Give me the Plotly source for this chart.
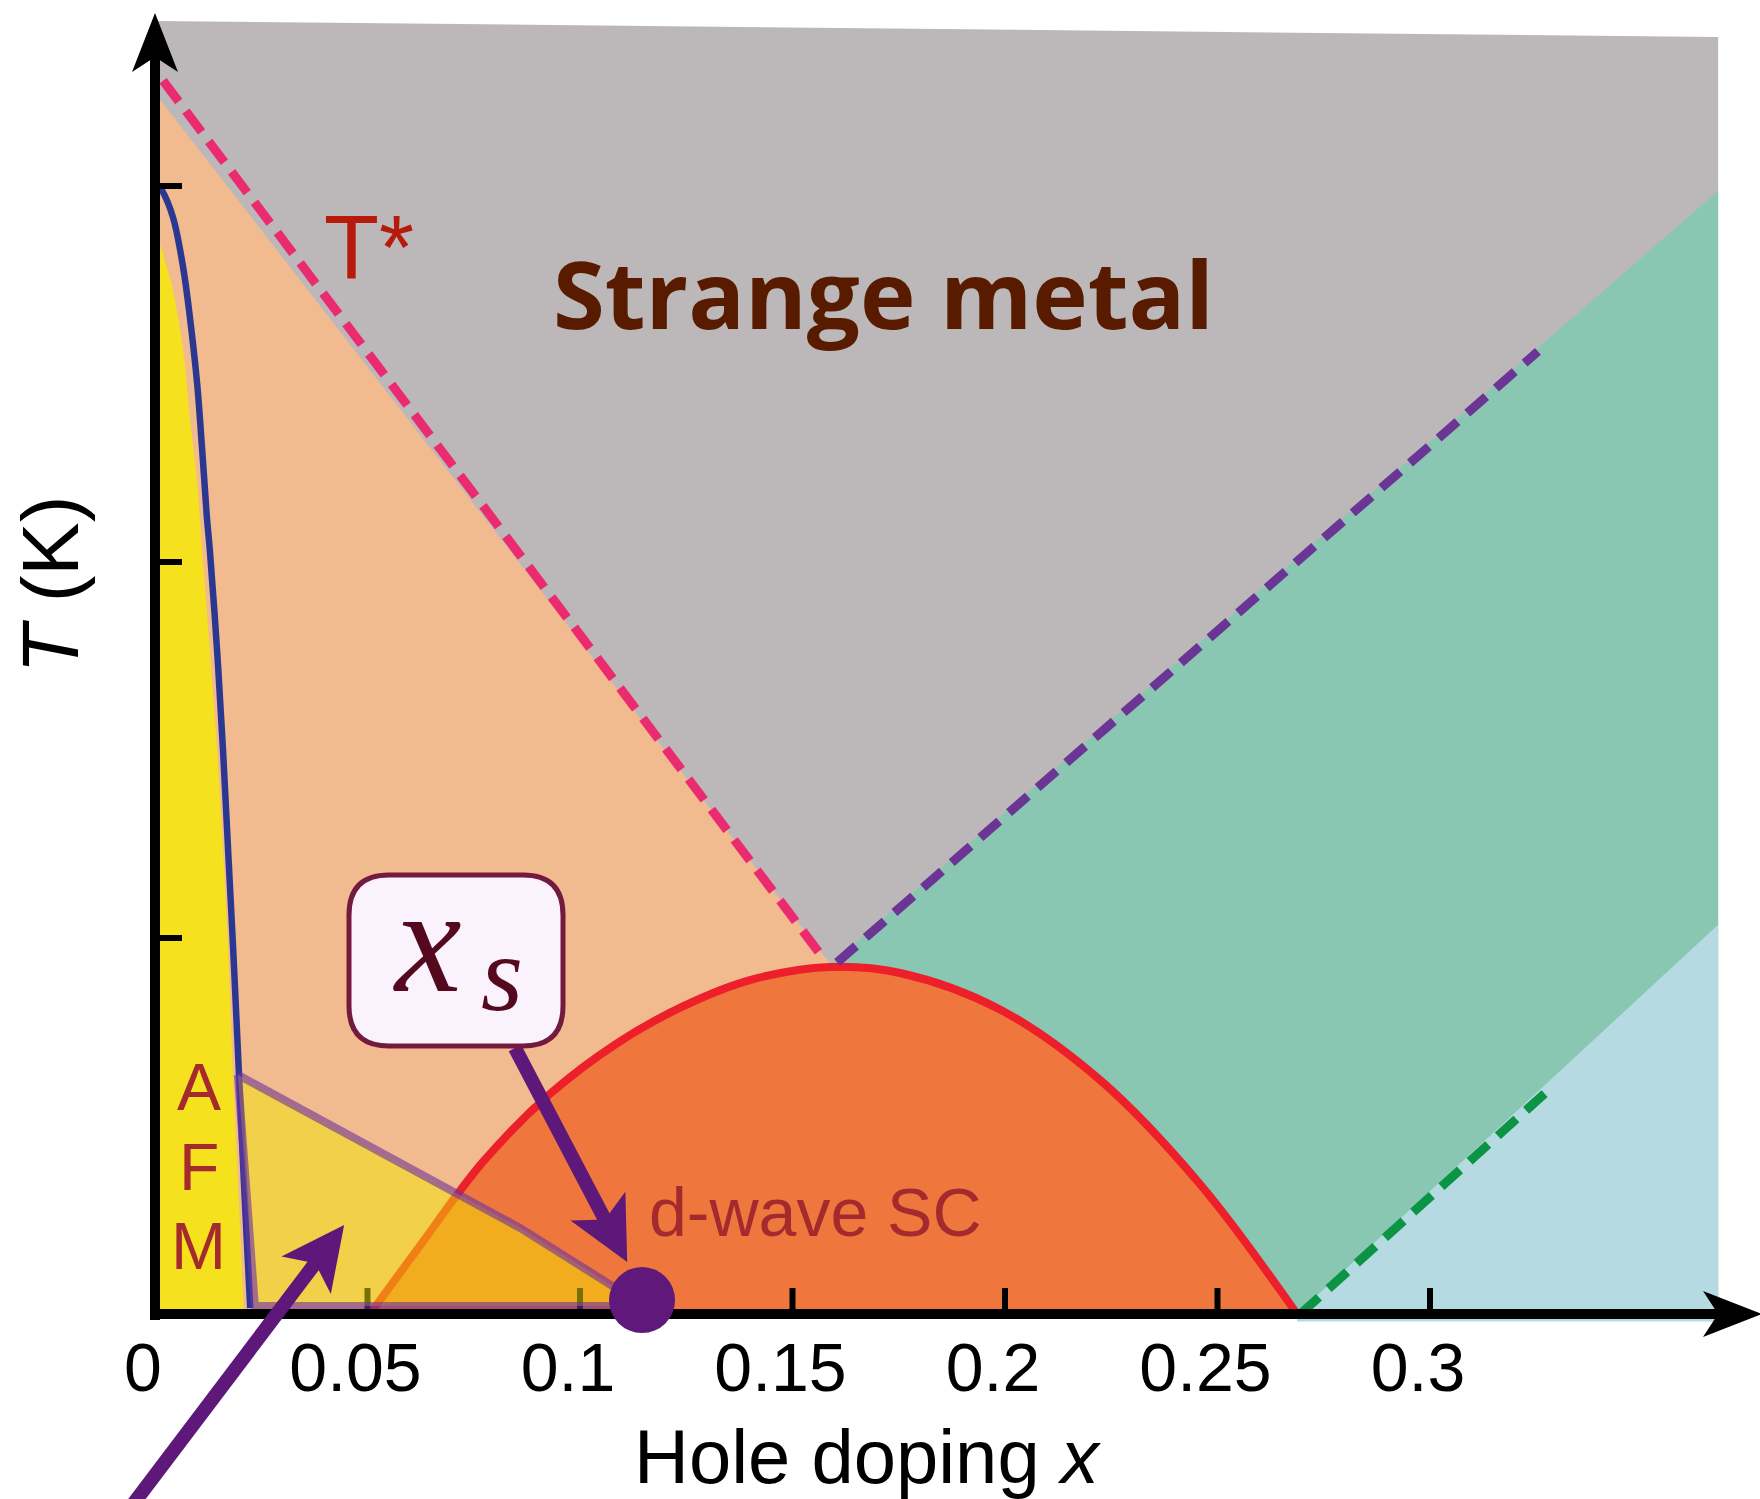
import numpy as np
import plotly.graph_objects as go

# ---------------- data (doping x, temperature in tick units) ----------------
xtick_vals = [0.05, 0.1, 0.15, 0.2, 0.25, 0.3]
xtick_text = ["0.05", "0.1", "0.15", "0.2", "0.25", "0.3"]
ytick_vals = [1, 2, 3]

x_right = 0.3678
gray_x = [0.0, x_right]
gray_T = [3.439, 3.396]

pseudo_x = [0.0, 0.159]          # pseudogap (T*) edge
pseudo_T = [3.247, 0.930]
tstar_dash_x = [0.0019, 0.157]
tstar_dash_T = [3.28, 0.95]

coh_x = [0.159, x_right]          # strange metal / crossover edge
coh_T = [0.930, 2.987]
coh_dash_x = [0.1605, 0.3254]
coh_dash_T = [0.935, 2.56]

fl_x = [0.2687, x_right]          # Fermi-liquid edge
fl_T = [0.0, 1.035]
fl_dash_x = [0.2695, 0.3287]
fl_dash_T = [0.0, 0.604]

dome_x = [0.0506, 0.0616, 0.0772, 0.0929, 0.1087, 0.1242, 0.1400, 0.1588,
          0.1753, 0.1988, 0.2224, 0.2459, 0.2687]
dome_T = [0.0, 0.170, 0.405, 0.585, 0.720, 0.818, 0.888, 0.923,
          0.907, 0.810, 0.622, 0.345, 0.0]

neel_x = [0.0008, 0.0016, 0.0042, 0.0066, 0.0082, 0.0099, 0.0111, 0.0122, 0.0129,
          0.0146, 0.0160, 0.0172, 0.0184, 0.0195, 0.0209, 0.0224]
neel_T = [3.0, 2.989, 2.918, 2.785, 2.652, 2.476, 2.298, 2.120, 2.032,
          1.766, 1.500, 1.234, 0.968, 0.702, 0.356, 0.016]

afm_x = [0.0, 0.0042, 0.0066, 0.0082, 0.0099, 0.0111, 0.0129, 0.0146, 0.0160,
         0.0172, 0.0181, 0.0195, 0.0209]
afm_T = [2.888, 2.723, 2.564, 2.386, 2.210, 2.032, 1.766, 1.500, 1.234,
         0.968, 0.702, 0.356, 0.0]

tri_x = [0.0195, 0.0859, 0.1129, 0.1129, 0.0235]
tri_T = [0.636, 0.229, 0.037, 0.021, 0.021]

xs_x = [0.1146]
xs_T = [0.037]

afm_letters = ["A", "F", "M"]
afm_letter_T = [0.604, 0.391, 0.181]

# ---------------- pixel scale helpers ----------------
PXX = 4250.0   # pixels per unit doping
PXY = 376.0    # pixels per unit T
X0_PX, Y0_PX = 155.0, 1314.0
W, H = 1760, 1499
xr = [-X0_PX / PXX, (W - X0_PX) / PXX]
yr = [(Y0_PX - H) / PXY, Y0_PX / PXY]

def head(start, tip, length, half, notch):
    sx, sy = start[0] * PXX, start[1] * PXY
    tx, ty = tip[0] * PXX, tip[1] * PXY
    d = np.array([tx - sx, ty - sy]); d /= np.linalg.norm(d)
    n = np.array([-d[1], d[0]])
    t = np.array([tx, ty])
    pts = [t, t - length * d + half * n, t - notch * d, t - length * d - half * n, t]
    hx = [p[0] / PXX for p in pts]; hy = [p[1] / PXY for p in pts]
    nb = t - notch * d
    return hx, hy, (nb[0] / PXX, nb[1] / PXY)

fig = go.Figure()

def poly(x, y, color):
    fig.add_trace(go.Scatter(x=x, y=y, mode="lines", fill="toself", fillcolor=color,
                             line=dict(width=0, color=color), hoverinfo="skip"))

def line(x, y, color, width, dash=None, shape="linear"):
    fig.add_trace(go.Scatter(x=x, y=y, mode="lines",
                             line=dict(color=color, width=width, dash=dash, shape=shape),
                             hoverinfo="skip"))

# regions
poly([gray_x[0], gray_x[1], gray_x[1], gray_x[0]], [gray_T[0], gray_T[1], 0, 0], "#BCB8B9")
poly([pseudo_x[0], pseudo_x[1], pseudo_x[1], 0], [pseudo_T[0], pseudo_T[1], 0, 0], "#F2BA8F")
poly([coh_x[0], coh_x[1], coh_x[1], coh_x[0]], [coh_T[0], coh_T[1], 0, 0], "#8AC7B3")
poly([fl_x[0], fl_x[1], fl_x[1], fl_x[0]], [fl_T[0], fl_T[1], -0.02, -0.02], "#B5DAE2")
# superconducting dome (filled down to T = 0)
fig.add_trace(go.Scatter(x=dome_x, y=dome_T, mode="lines", fill="tozeroy",
                         fillcolor="#EF773E",
                         line=dict(width=0, color="#EF773E", shape="spline", smoothing=1.0),
                         hoverinfo="skip"))
# antiferromagnet (filled to x = 0)
fig.add_trace(go.Scatter(x=afm_x, y=afm_T, mode="lines", fill="tozerox",
                         fillcolor="#F5E11E",
                         line=dict(width=0, color="#F5E11E", shape="spline"),
                         hoverinfo="skip"))

# boundary lines
line(dome_x, dome_T, "#EC1F2B", 8, shape="spline")
line(tstar_dash_x, tstar_dash_T, "#EB2B6F", 9, "26px,12px")
line(coh_dash_x, coh_dash_T, "#6B3595", 9, "25px,13px")
line(fl_dash_x, fl_dash_T, "#0B9444", 9, "25px,13px")
line(neel_x, neel_T, "#2B3892", 6.5, shape="spline")

# ticks (under translucent overlay)
tx, ty = [], []
for v in xtick_vals:
    tx += [v, v, None]; ty += [0, 26 / PXY, None]
line(tx, ty, "black", 6)
tx, ty = [], []
for v in ytick_vals:
    tx += [0, 27 / PXX, None]; ty += [v, v, None]
line(tx, ty, "black", 6)

# translucent yellow region
fig.add_trace(go.Scatter(x=tri_x + [tri_x[0]], y=tri_T + [tri_T[0]], mode="lines",
                         fill="toself", fillcolor="rgba(244,231,0,0.49)",
                         line=dict(color="rgba(110,50,160,0.6)", width=8),
                         hoverinfo="skip"))

# axes with arrow heads
ax_tip = ((W + 2 - X0_PX) / PXX, 0.0)
hx, hy, nb = head((0, 0), ax_tip, 59, 23, 44)
line([-5 / PXX, nb[0]], [0, 0], "black", 10)
poly(hx, hy, "black")
ay_tip = (0.0, (Y0_PX - 13) / PXY)
hx, hy, nb = head((0, 0), ay_tip, 59, 23, 44)
line([0, 0], [-6 / PXY, nb[1]], "black", 10)
poly(hx, hy, "black")

# purple arrows
arrows = [((0.0847, 0.7074), (0.1111, 0.1383)),
          ((-0.0071, -0.5346), (0.0445, 0.2367))]
for s, t in arrows:
    hx, hy, nb = head(s, t, 63, 31, 48)
    line([s[0], nb[0]], [s[1], nb[1]], "#5E1879", 14)
    poly(hx, hy, "#5E1879")

# x_s point
fig.add_trace(go.Scatter(x=xs_x, y=xs_T, mode="markers",
                         marker=dict(size=66, color="#5F197B", line=dict(width=0)),
                         hoverinfo="skip"))

# rounded box for x_s label
bx0, bx1 = (349 - X0_PX) / PXX, (563 - X0_PX) / PXX
by0, by1 = (Y0_PX - 1046) / PXY, (Y0_PX - 875) / PXY
rx, ry = 40 / PXX, 40 / PXY
path = (f"M {bx0+rx},{by1} L {bx1-rx},{by1} Q {bx1},{by1} {bx1},{by1-ry} "
        f"L {bx1},{by0+ry} Q {bx1},{by0} {bx1-rx},{by0} L {bx0+rx},{by0} "
        f"Q {bx0},{by0} {bx0},{by0+ry} L {bx0},{by1-ry} Q {bx0},{by1} {bx0+rx},{by1} Z")
fig.add_shape(type="path", path=path, xref="x", yref="y", fillcolor="#FAF2FC",
              line=dict(color="#741A3F", width=5), layer="above")

# tick labels
fig.add_trace(go.Scatter(x=[0 - 12 / PXX] + [v - 12 / PXX for v in xtick_vals],
                         y=[-0.159] * (len(xtick_vals) + 1), mode="text",
                         text=["0"] + xtick_text, textposition="middle center",
                         textfont=dict(family="Liberation Sans, Arial", size=68, color="black"),
                         hoverinfo="skip"))

def note(x, y, text, size, color, family="Liberation Sans, Arial", **kw):
    fig.add_annotation(x=x, y=y, xref="x", yref="y", text=text, showarrow=False,
                       font=dict(family=family, size=size, color=color),
                       xanchor="center", yanchor="middle", **kw)

note(0.1715, 2.715, "<b>Strange metal</b>", 94, "#581B00", family="Open Sans, Noto Sans")
note(0.0503, 2.835, "T*", 90, "#B51A0A")
for letter, t in zip(afm_letters, afm_letter_T):
    note(0.01035, t, letter, 66, "#A52A2E")
note(0.1553, 0.271, "d-wave SC", 68, "#A52A2E")
note(0.0640, 0.995, "<i>x</i>", 150, "#55091F", family="Liberation Serif, Times New Roman")
note(0.0816, 0.905, "<i>s</i>", 108, "#55091F", family="Liberation Serif, Times New Roman")
note(0.1678, -0.380, "Hole doping <i>x</i>", 76, "black")
note(-0.0245, 1.940, "<i>T</i> (K)", 80, "black", textangle=-90)

fig.update_layout(width=W, height=H, margin=dict(l=0, r=0, t=0, b=0),
                  paper_bgcolor="white", plot_bgcolor="white", showlegend=False)
fig.update_xaxes(range=xr, visible=False, fixedrange=True)
fig.update_yaxes(range=yr, visible=False, fixedrange=True)

fig.write_html("out.html", config={"displayModeBar": False},
               post_script="document.body.style.margin='0';")
